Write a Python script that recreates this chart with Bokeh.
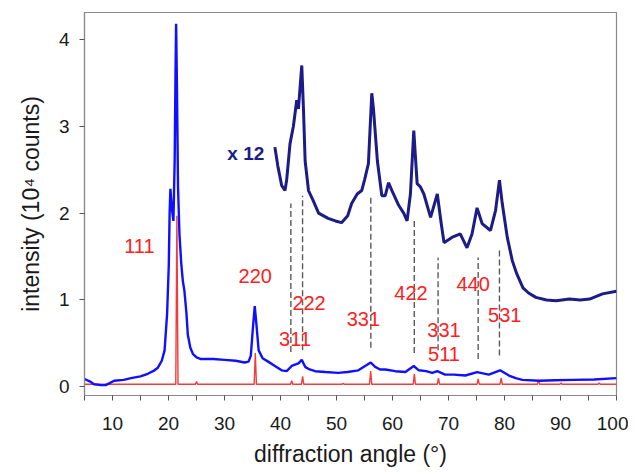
from bokeh.plotting import figure
from bokeh.models import Range1d, FixedTicker, ColumnDataSource
from bokeh.core.properties import value
from bokeh.embed import file_html
from bokeh.resources import INLINE

# ---- data ----
main_x = [5, 6, 6.7, 8, 8.8, 10.3, 12, 13.3, 15, 16.3, 17.5, 18.1, 18.8, 19.3, 19.75,
          20.05, 20.2, 20.34, 20.6, 20.88, 21.1, 21.25, 21.36, 21.5, 21.7, 21.96, 22.3,
          22.56, 22.85, 23.2, 23.45, 23.9, 24.35, 25.0, 25.8, 28, 30, 32, 33.6, 34.3,
          34.7, 35.1, 35.4, 35.7, 36.1, 36.8, 37.8, 39, 40.2, 41.1, 42, 43.2, 43.8, 44.4,
          45.2, 46.2, 48, 50.3, 52, 53.9, 55.4, 56.1, 56.9, 57.8, 58.7, 60.5, 62.3, 63.8,
          64.7, 66, 67.1, 68, 69.4, 71, 73, 75.1, 77.2, 79.2, 80.8, 82, 83.2, 86.2, 89,
          92.2, 96, 100]
main_y = [0.09, 0.06, 0.03, 0.02, 0.02, 0.07, 0.08, 0.10, 0.12, 0.15, 0.19, 0.22, 0.30,
          0.42, 0.84, 1.40, 2.00, 2.28, 2.05, 1.91, 2.60, 3.60, 4.18, 3.50, 2.30, 1.75,
          1.40, 1.22, 1.10, 0.85, 0.60, 0.45, 0.38, 0.34, 0.32, 0.32, 0.31, 0.30, 0.28,
          0.29, 0.36, 0.70, 0.93, 0.72, 0.42, 0.33, 0.29, 0.24, 0.19, 0.18, 0.24, 0.27,
          0.31, 0.23, 0.20, 0.18, 0.17, 0.16, 0.17, 0.19, 0.25, 0.28, 0.23, 0.20, 0.20,
          0.18, 0.17, 0.24, 0.19, 0.18, 0.16, 0.18, 0.14, 0.14, 0.13, 0.17, 0.14, 0.19,
          0.13, 0.10, 0.08, 0.07, 0.075, 0.08, 0.085, 0.10]

x12_x = [39.0, 39.5, 40.2, 40.8, 41.1, 41.7, 42.3, 42.9, 43.2, 43.8, 44.1, 44.4, 45.0,
         45.8, 46.8, 48.5, 49.8, 50.9, 52.0, 52.7, 53.7, 54.5, 55.0, 55.7, 56.3, 56.6,
         57.3, 58.1, 58.7, 59.3, 59.9, 61.1, 62.0, 62.6, 63.2, 63.8, 64.4, 65.0, 65.6,
         66.8, 68.0, 68.7, 69.2, 70.6, 72.1, 73.3, 74.2, 75.1, 76.0, 77.5, 78.4, 79.1,
         79.6, 80.5, 81.4, 82.2, 83.3, 84.3, 85.6, 87.5, 89.2, 91.6, 93.5, 95.2, 97.5,
         100.0]
x12_y = [2.76, 2.55, 2.32, 2.26, 2.38, 2.80, 3.00, 3.30, 3.20, 3.70, 3.20, 2.60, 2.26,
         2.15, 2.00, 1.94, 1.91, 1.89, 1.97, 2.11, 2.22, 2.26, 2.38, 2.57, 3.38, 3.20,
         2.60, 2.20, 2.20, 2.35, 2.26, 2.09, 2.00, 1.91, 2.22, 2.95, 2.34, 2.30, 2.22,
         1.95, 2.22, 1.88, 1.66, 1.72, 1.76, 1.60, 1.76, 2.06, 1.88, 1.80, 2.03, 2.38,
         2.11, 1.72, 1.45, 1.30, 1.14, 1.08, 1.03, 1.00, 0.99, 1.01, 1.00, 1.01, 1.07,
         1.10]

ref_x = [5, 21.3, 21.5, 21.7, 24.8, 25.0, 25.2, 35.3, 35.5, 35.7, 41.8, 42.0, 42.2,
         43.75, 43.95, 44.15, 51.0, 51.2, 51.4, 55.9, 56.1, 56.3, 63.7, 63.9, 64.1,
         68.0, 68.2, 68.4, 75.1, 75.3, 75.5, 79.2, 79.4, 79.6, 85.9, 86.1, 86.3,
         89.9, 90.1, 90.3, 96.7, 96.9, 97.1, 100]
ref_y = [0.03, 0.03, 1.97, 0.03, 0.03, 0.06, 0.03, 0.03, 0.39, 0.03, 0.03, 0.07, 0.03,
         0.03, 0.12, 0.03, 0.03, 0.04, 0.03, 0.03, 0.18, 0.03, 0.03, 0.15, 0.03,
         0.03, 0.10, 0.03, 0.03, 0.09, 0.03, 0.03, 0.10, 0.03, 0.03, 0.08, 0.03,
         0.03, 0.045, 0.03, 0.03, 0.045, 0.03, 0.03]

dash_x = [41.85, 43.94, 56.13, 63.89, 68.14, 75.3, 79.1]
dash_y0 = [0.40, 0.42, 0.45, 0.39, 0.42, 0.32, 0.36]
dash_y1 = [2.11, 2.20, 2.18, 1.91, 1.49, 1.49, 1.59]

hkl_text = ["111", "220", "222", "311", "331", "422", "331", "511", "440", "531"]
hkl_x = [14.8, 35.5, 45.1, 42.6, 54.8, 63.3, 69.2, 69.2, 74.4, 80.05]
hkl_y = [1.62, 1.28, 0.97, 0.55, 0.78, 1.08, 0.65, 0.38, 1.18, 0.83]

scale_text = ["x 12"]
scale_x = [33.8]
scale_y = [2.69]

x_ticks = [10, 20, 30, 40, 50, 60, 70, 80, 90, 100]
x_minor = [5, 15, 25, 35, 45, 55, 65, 75, 85, 95]
y_ticks = [0, 1, 2, 3, 4]

FONT = "Liberation Sans"

p = figure(frame_width=532, frame_height=383, output_backend="svg",
           toolbar_location=None,
           x_range=Range1d(5, 100), y_range=Range1d(-0.1, 4.31),
           min_border_left=84, min_border_right=12, min_border_top=12,
           min_border_bottom=60)
p.grid.visible = False
p.outline_line_color = "#8a8a8a"
p.outline_line_width = 1.2
p.background_fill_color = "white"
p.border_fill_color = "white"

# curves
p.line(ref_x, ref_y, line_color="#f03c3c", line_width=1.4)
p.line(main_x, main_y, line_color="#1010ff", line_width=2.4)
p.line(x12_x, x12_y, line_color="#1c1c88", line_width=3.0)

p.segment(x0=dash_x, y0=dash_y0, x1=dash_x, y1=dash_y1, line_color="#5a5a5a",
          line_width=1.4, line_dash="6 3")

src = ColumnDataSource(dict(x=hkl_x, y=hkl_y, t=hkl_text))
p.text(x="x", y="y", text="t", source=src, text_color="#ff2020",
       text_font=value(FONT), text_font_size="20px", text_align="center",
       text_baseline="middle")
src2 = ColumnDataSource(dict(x=scale_x, y=scale_y, t=scale_text))
p.text(x="x", y="y", text="t", source=src2, text_color="#1c1c88",
       text_font=value(FONT), text_font_size="19px", text_font_style="bold",
       text_align="center", text_baseline="middle")

# axes
xa = p.xaxis[0]
xa.ticker = FixedTicker(ticks=x_ticks, minor_ticks=x_minor)
ya = p.yaxis[0]
ya.ticker = FixedTicker(ticks=y_ticks, minor_ticks=[])
for ax in (xa, ya):
    ax.axis_line_color = "#8a8a8a"
    ax.axis_line_width = 1.2
    ax.major_tick_line_color = "#555555"
    ax.minor_tick_line_color = "#555555"
    ax.major_tick_in = 0
    ax.major_tick_out = 5
    ax.minor_tick_in = 0
    ax.minor_tick_out = 5
    ax.major_label_text_font = FONT
    ax.major_label_text_font_size = "19px"
    ax.major_label_text_color = "#1a1a1a"
    ax.axis_label_text_font = FONT
    ax.axis_label_text_font_size = "23px"
    ax.axis_label_text_font_style = "normal"
    ax.axis_label_text_color = "#1a1a1a"
xa.axis_label = "diffraction angle (°)"
ya.axis_label = "intensity (10⁴ counts)"
xa.major_label_standoff = 16
ya.major_label_standoff = 10
xa.axis_label_standoff = 8
ya.axis_label_standoff = 12

open("out.html", "w").write(file_html(p, INLINE))
